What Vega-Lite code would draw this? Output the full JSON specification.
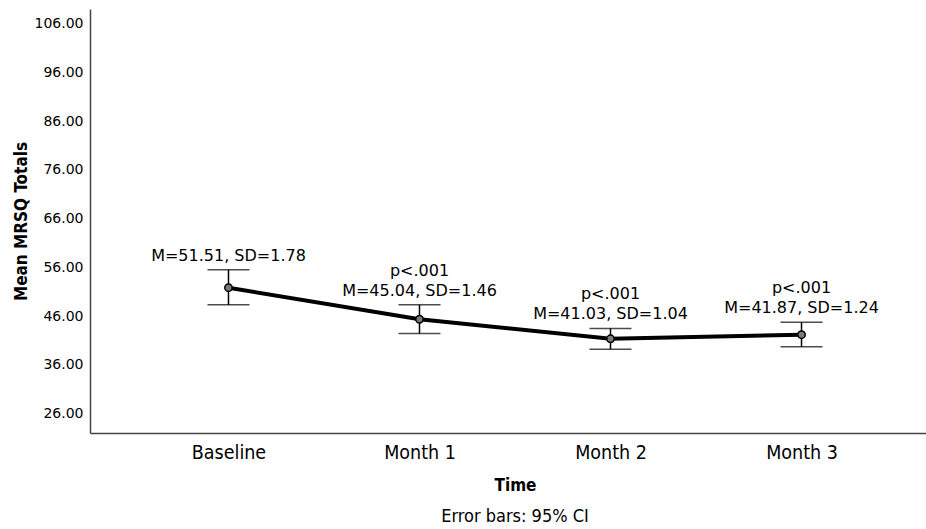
{
  "$schema": "https://vega.github.io/schema/vega-lite/v6.json",
  "width": 850,
  "height": 424,
  "autosize": "none",
  "padding": {"left": 90, "top": 9, "right": -14, "bottom": 96},
  "background": "white",
  "title": {
    "text": "Error bars: 95% CI",
    "orient": "bottom",
    "anchor": "middle",
    "font": "DejaVu Sans Condensed",
    "fontSize": 18,
    "fontWeight": "normal",
    "color": "black",
    "offset": 15
  },
  "data": {
    "values": [
      {"time": "Baseline", "mean": 51.51, "lower": 48.0, "upper": 55.2, "m": "M=51.51, SD=1.78", "p": ""},
      {"time": "Month 1", "mean": 45.04, "lower": 42.1, "upper": 48.0, "m": "M=45.04, SD=1.46", "p": "p<.001"},
      {"time": "Month 2", "mean": 41.03, "lower": 38.9, "upper": 43.15, "m": "M=41.03, SD=1.04", "p": "p<.001"},
      {"time": "Month 3", "mean": 41.87, "lower": 39.4, "upper": 44.4, "m": "M=41.87, SD=1.24", "p": "p<.001"}
    ]
  },
  "encoding": {
    "x": {
      "field": "time",
      "type": "nominal",
      "sort": null,
      "scale": {"type": "point", "padding": 0.725},
      "axis": {
        "title": "Time",
        "labelAngle": 0,
        "ticks": false,
        "domainColor": "#444444",
        "domainWidth": 1.5,
        "labelFont": "DejaVu Sans Condensed",
        "labelFontSize": 19.5,
        "labelColor": "black",
        "labelPadding": 10,
        "titleFont": "DejaVu Sans Condensed",
        "titleFontSize": 17,
        "titleFontWeight": "bold",
        "titleColor": "black",
        "titleY": 57,
        "titleBaseline": "alphabetic"
      }
    }
  },
  "layer": [
    {
      "mark": {"type": "rule", "color": "black", "strokeWidth": 1.5},
      "encoding": {
        "y": {
          "field": "lower",
          "type": "quantitative",
          "scale": {"domain": [21.7, 108.7], "nice": false, "zero": false},
          "axis": {
            "title": "Mean MRSQ Totals",
            "values": [26, 36, 46, 56, 66, 76, 86, 96, 106],
            "format": ".2f",
            "ticks": false,
            "grid": false,
            "domainColor": "#444444",
            "domainWidth": 1.5,
            "labelFont": "DejaVu Sans",
            "labelFontSize": 14,
            "labelColor": "black",
            "labelPadding": 7,
            "labelOffset": 1.5,
            "titleFont": "DejaVu Sans Condensed",
            "titleFontSize": 17,
            "titleFontWeight": "bold",
            "titleColor": "black",
            "titleX": -64,
            "titleBaseline": "alphabetic"
          }
        },
        "y2": {"field": "upper"}
      }
    },
    {
      "mark": {"type": "tick", "color": "black", "size": 42, "thickness": 1.5},
      "encoding": {"y": {"field": "lower", "type": "quantitative"}}
    },
    {
      "mark": {"type": "tick", "color": "black", "size": 42, "thickness": 1.5},
      "encoding": {"y": {"field": "upper", "type": "quantitative"}}
    },
    {
      "mark": {"type": "line", "color": "black", "strokeWidth": 4},
      "encoding": {"y": {"field": "mean", "type": "quantitative"}}
    },
    {
      "mark": {"type": "point", "shape": "circle", "size": 55, "filled": false, "fill": "#7a7a7a", "fillOpacity": 1, "stroke": "black", "strokeWidth": 1.5, "opacity": 1},
      "encoding": {"y": {"field": "mean", "type": "quantitative"}}
    },
    {
      "mark": {"type": "text", "font": "DejaVu Sans", "fontSize": 16, "color": "black", "align": "center", "baseline": "bottom", "dy": -6},
      "encoding": {
        "y": {"field": "upper", "type": "quantitative"},
        "text": {"field": "m"}
      }
    },
    {
      "mark": {"type": "text", "font": "DejaVu Sans", "fontSize": 16, "color": "black", "align": "center", "baseline": "bottom", "dy": -26},
      "encoding": {
        "y": {"field": "upper", "type": "quantitative"},
        "text": {"field": "p"}
      }
    }
  ],
  "config": {
    "view": {"stroke": null}
  }
}
